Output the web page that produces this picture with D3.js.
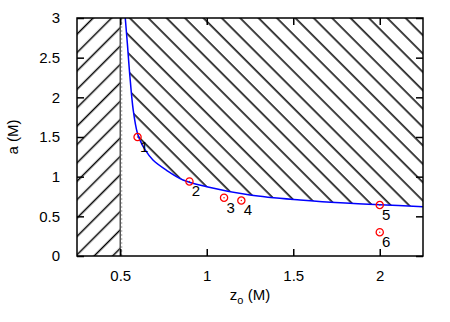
<!DOCTYPE html>
<html>
<head>
<meta charset="utf-8">
<script src="https://cdn.jsdelivr.net/npm/d3@7"></script>
<style>
  body { margin: 0; background: #fff; }
  text { font-family: "Liberation Sans", Arial, sans-serif; fill: #000; }
</style>
</head>
<body>
<div id="chart"></div>
<script>
// boundary curve
const curveZ = [0.529, 0.541, 0.556, 0.575, 0.599, 0.614, 0.643, 0.689, 0.768, 0.863, 1.0, 1.25, 1.539, 1.828, 2.0, 2.25];
const curveA = [3.0, 2.68, 2.26, 1.84, 1.55, 1.46, 1.34, 1.21, 1.08, 0.958, 0.874, 0.769, 0.706, 0.664, 0.647, 0.621];

// numbered points
const pointZ = [0.6, 0.9, 1.1, 1.2, 2.0, 2.0];
const pointA = [1.5, 0.94, 0.735, 0.70, 0.643, 0.30];
const pointLabels = ["1", "2", "3", "4", "5", "6"];

const xTicks = [0.5, 1, 1.5, 2];
const yTicks = [0, 0.5, 1, 1.5, 2, 2.5, 3];
const zMin = 0.5; // left excluded strip ends here

const width = 450, height = 322;
const margin = {left: 77, right: 27, top: 18, bottom: 66};
const iw = width - margin.left - margin.right;
const ih = height - margin.top - margin.bottom;
const fs = "15px";

const svg = d3.select("#chart").append("svg")
    .attr("width", width)
    .attr("height", height);

const x = d3.scaleLinear().domain([0.25, 2.25]).range([margin.left, margin.left + iw]);
const y = d3.scaleLinear().domain([0, 3]).range([margin.top + ih, margin.top]);

const defs = svg.append("defs");
defs.append("clipPath").attr("id", "clip")
  .append("rect")
    .attr("x", margin.left).attr("y", margin.top)
    .attr("width", iw).attr("height", ih);

// hatch patterns, 45 degree lines
function hatch(id, angle, offset) {
  const s = 13;
  const p = defs.append("pattern")
      .attr("id", id)
      .attr("patternUnits", "userSpaceOnUse")
      .attr("width", s).attr("height", s)
      .attr("patternTransform", "rotate(" + angle + ")");
  [offset - s, offset, offset + s].forEach(o => {
    p.append("line")
      .attr("x1", o).attr("x2", o)
      .attr("y1", -1).attr("y2", s + 1)
      .attr("stroke", "#000").attr("stroke-width", 1.5);
  });
}
hatch("hatchL", 45, 0.6);
hatch("hatchR", -45, 1.1);

const data = curveZ.map((z, i) => ({z: z, a: curveA[i]}));
const g = svg.append("g").attr("clip-path", "url(#clip)");
const smooth = d3.curveCatmullRom.alpha(0.5);

// left strip
g.append("rect")
  .attr("x", x(0.25)).attr("y", y(3))
  .attr("width", x(zMin) - x(0.25)).attr("height", y(0) - y(3))
  .attr("fill", "url(#hatchL)");

// region above the curve
const area = d3.area()
  .x(d => x(d.z))
  .y0(y(3))
  .y1(d => y(d.a))
  .curve(smooth);
g.append("path").datum(data)
  .attr("d", area)
  .attr("fill", "url(#hatchR)");

// vertical line at z = 0.5
g.append("line")
  .attr("x1", x(zMin)).attr("x2", x(zMin))
  .attr("y1", y(0)).attr("y2", y(3))
  .attr("stroke", "#555").attr("stroke-width", 1.5);
g.append("line")
  .attr("x1", x(zMin) + 1.5).attr("x2", x(zMin) + 1.5)
  .attr("y1", y(0)).attr("y2", y(3))
  .attr("stroke", "#aaa").attr("stroke-width", 1)
  .attr("stroke-dasharray", "2,2");

// curve
const line = d3.line()
  .x(d => x(d.z))
  .y(d => y(d.a))
  .curve(smooth);
g.append("path").datum(data)
  .attr("d", line)
  .attr("fill", "none")
  .attr("stroke", "#0000ff")
  .attr("stroke-width", 1.5);

// axes, ticks inward on all four sides
const tl = 7;
svg.append("g").attr("transform", `translate(0,${y(0)})`)
  .call(d3.axisBottom(x).tickValues(xTicks).tickSizeInner(-tl).tickSizeOuter(0).tickPadding(14).tickFormat(d3.format("")));
svg.append("g").attr("transform", `translate(0,${y(3)})`)
  .call(d3.axisTop(x).tickValues(xTicks).tickSizeInner(-tl).tickSizeOuter(0).tickFormat(""));
svg.append("g").attr("transform", `translate(${x(0.25)},0)`)
  .call(d3.axisLeft(y).tickValues(yTicks).tickSizeInner(-tl).tickSizeOuter(0).tickPadding(17).tickFormat(d3.format("")));
svg.append("g").attr("transform", `translate(${x(2.25)},0)`)
  .call(d3.axisRight(y).tickValues(yTicks).tickSizeInner(-tl).tickSizeOuter(0).tickFormat(""));

svg.selectAll(".domain").remove();
svg.selectAll(".tick line").attr("stroke", "#000").attr("stroke-width", 1.5);
svg.selectAll(".tick text").style("font-size", fs).attr("fill", "#000");

svg.append("rect")
  .attr("x", margin.left).attr("y", margin.top)
  .attr("width", iw).attr("height", ih)
  .attr("fill", "none").attr("stroke", "#000").attr("stroke-width", 1.5);

// points
const pts = pointZ.map((z, i) => ({z: z, a: pointA[i], label: pointLabels[i]}));
const pg = svg.append("g").selectAll("g").data(pts).join("g")
  .attr("transform", d => `translate(${x(d.z)},${y(d.a)})`);
pg.append("circle").attr("r", 3.6)
  .attr("fill", "none").attr("stroke", "#ff0000").attr("stroke-width", 1.3);
pg.append("circle").attr("r", 0.7).attr("fill", "#ff0000");
pg.append("text")
  .attr("x", 6.5).attr("y", 15)
  .attr("text-anchor", "middle")
  .style("font-size", fs)
  .text(d => d.label);

// axis labels
const xl = svg.append("text")
  .attr("x", x(1.25)).attr("y", 300)
  .attr("text-anchor", "middle")
  .style("font-size", fs);
xl.append("tspan").text("z");
xl.append("tspan").attr("dy", 4).style("font-size", "11px").text("o");
xl.append("tspan").attr("dy", -4).text(" (M)");

svg.append("text")
  .attr("transform", `translate(18,${y(1.5)}) rotate(-90)`)
  .attr("text-anchor", "middle")
  .style("font-size", fs)
  .text("a (M)");
</script>
</body>
</html>
